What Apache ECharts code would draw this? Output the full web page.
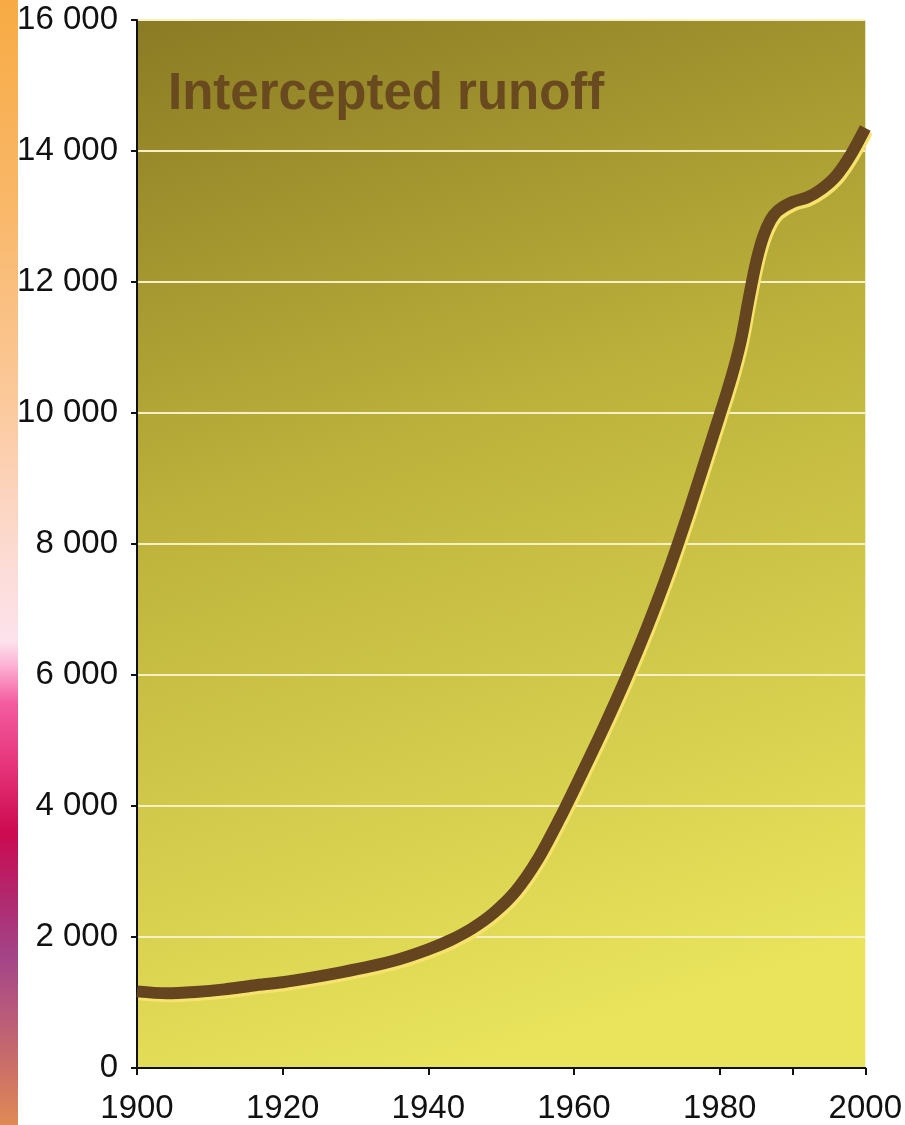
<!DOCTYPE html>
<html>
<head>
<meta charset="utf-8">
<script src="https://cdn.jsdelivr.net/npm/echarts@6/dist/echarts.min.js"></script>
<style>
html,body{margin:0;padding:0;background:#fff;}
#chart{width:905px;height:1125px;}
</style>
</head>
<body>
<div id="chart"></div>
<script>
// Data
const title = 'Intercepted runoff';
const years = [1900,1904,1908,1912,1916,1920,1924,1928,1932,1936,1940,1943,1946,1949,1952,1955,1958,1961,1964,1967,1970,1973,1976,1979,1980,1981,1982,1983,1984,1985,1986,1987,1988,1990,1992,1994,1996,1998,2000];
const runoff = [1170,1140,1160,1200,1260,1310,1380,1460,1550,1660,1810,1950,2130,2370,2700,3180,3800,4480,5180,5920,6720,7600,8580,9620,9970,10320,10700,11150,11750,12300,12700,12950,13090,13220,13290,13420,13620,13940,14350];
const xTickValues = [1900,1920,1940,1960,1980,1990,2000];
const xLabelValues = [1900,1920,1940,1960,1980,2000];

const chart = echarts.init(document.getElementById('chart'), null, {renderer:'canvas'});
const fmt = v => {
  const s = String(Math.round(v));
  return s.length > 3 ? s.slice(0, s.length-3) + ' ' + s.slice(s.length-3) : s;
};
chart.setOption({
  animation: false,
  backgroundColor: '#ffffff',
  grid: {
    left: 137, right: 38, top: 20, bottom: 55,
    show: true, borderWidth: 0,
    backgroundColor: new echarts.graphic.LinearGradient(0, 0, 0.45, 1, [
      {offset: 0, color: '#8b7b24'},
      {offset: 0.45, color: '#bdb33c'},
      {offset: 1, color: '#e9e45c'}
    ])
  },
  xAxis: {
    type: 'value', min: 1900, max: 2000, interval: 20,
    axisLine: {show: true, lineStyle: {color: '#111', width: 2}},
    axisTick: {show: true, length: 7, lineStyle: {color: '#111', width: 2}, customValues: xTickValues},
    axisLabel: {customValues: xLabelValues, color: '#111', fontSize: 33, fontFamily: 'Liberation Sans, Arial, sans-serif', margin: 24, formatter: v => String(v)},
    splitLine: {show: false}
  },
  yAxis: {
    type: 'value', min: 0, max: 16000, interval: 2000,
    axisLine: {show: true, lineStyle: {color: '#111', width: 2}},
    axisTick: {show: true, length: 6, lineStyle: {color: '#111', width: 2}},
    axisLabel: {color: '#111', fontSize: 33, fontFamily: 'Liberation Sans, Arial, sans-serif', margin: 19, formatter: fmt},
    splitLine: {show: true, lineStyle: {color: '#f6f0c6', width: 2}}
  },
  series: [{
    type: 'line',
    data: years.map((y, i) => [y, runoff[i]]),
    smooth: 0.3,
    showSymbol: false,
    clip: true,
    lineStyle: {
      color: '#654420', width: 12,
      shadowColor: '#f7e36c', shadowBlur: 0, shadowOffsetX: 2, shadowOffsetY: 3
    }
  }],
  graphic: [
    {
      type: 'rect', left: 0, top: 0, z: 10,
      shape: {width: 18, height: 1125},
      style: {fill: new echarts.graphic.LinearGradient(0, 0, 0, 1, [
        {offset: 0, color: '#f8ab44'},
        {offset: 0.18, color: '#f9b768'},
        {offset: 0.36, color: '#fbc99c'},
        {offset: 0.5, color: '#fddcd6'},
        {offset: 0.57, color: '#fde2ec'},
        {offset: 0.59, color: '#fcb6d6'},
        {offset: 0.625, color: '#f45ca0'},
        {offset: 0.68, color: '#e6347a'},
        {offset: 0.74, color: '#cc0a4f'},
        {offset: 0.8, color: '#b02a70'},
        {offset: 0.85, color: '#a44488'},
        {offset: 0.9, color: '#b85a7a'},
        {offset: 0.95, color: '#cc7066'},
        {offset: 1, color: '#e08a55'}
      ])}
    },
    {
      type: 'text', left: 168, top: 69, z: 10,
      style: {text: title, fill: '#66471f', opacity: 0.95, font: 'bold 51px "Liberation Sans", Arial, sans-serif'}
    }
  ]
});
</script>
</body>
</html>
